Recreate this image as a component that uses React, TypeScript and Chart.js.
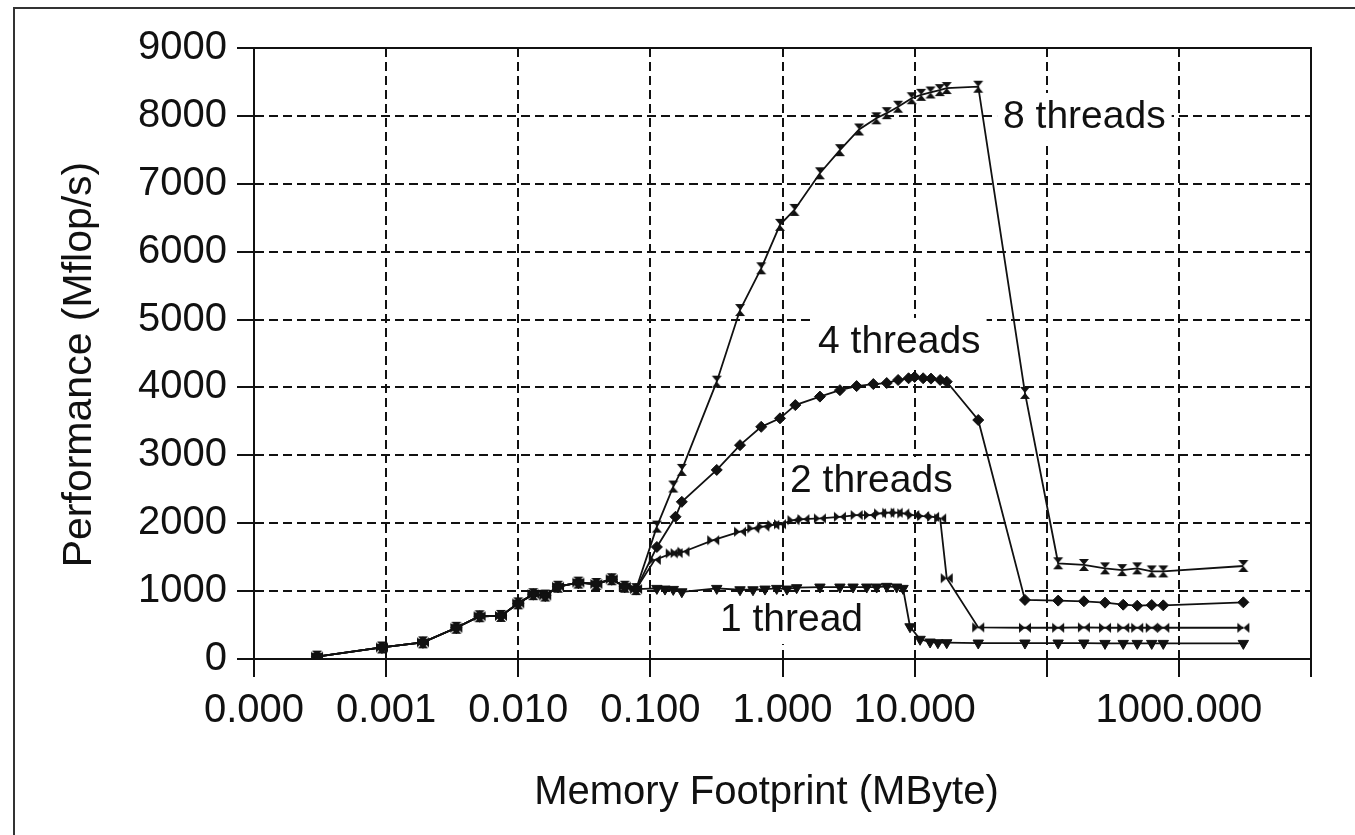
import React, { useEffect, useRef } from 'react';
import { Chart, registerables } from 'chart.js';

Chart.register(...registerables);

// ---- Data (memory footprint in MByte, performance in Mflop/s) ----
// All thread counts coincide for the smallest sizes
const sharedSize = [0.0003, 0.00093, 0.0019, 0.0034, 0.0051, 0.0074, 0.010, 0.013, 0.016, 0.020, 0.0285, 0.039, 0.051, 0.064, 0.078];
const sharedPerf = [35, 170, 245, 460, 630, 635, 820, 955, 935, 1065, 1125, 1105, 1175, 1065, 1030];

const size1 = [0.112, 0.129, 0.149, 0.173, 0.318, 0.477, 0.598, 0.737, 0.904, 1.08, 1.28, 1.92, 2.72, 3.42, 4.34, 5.16, 6.15, 7.31, 8.17, 9.23, 11.0, 13.1, 15.0, 17.5, 30.3, 68.4, 122, 191, 276, 379, 484, 623, 762, 3076];
const perf1 = [1040, 1030, 1025, 990, 1040, 1020, 1020, 1030, 1040, 1030, 1050, 1060, 1060, 1060, 1060, 1060, 1070, 1060, 1040, 475, 290, 250, 240, 240, 235, 235, 235, 235, 230, 230, 230, 230, 230, 230];

const size2 = [0.108, 0.145, 0.158, 0.178, 0.299, 0.477, 0.601, 0.716, 0.852, 0.957, 1.21, 1.44, 1.92, 2.72, 3.64, 4.59, 5.47, 6.32, 7.31, 8.21, 9.77, 11.6, 13.8, 15.6, 17.5, 30.3, 68.4, 122, 191, 276, 379, 484, 623, 762, 3076];
const perf2 = [1460, 1555, 1560, 1580, 1750, 1875, 1925, 1950, 1975, 1985, 2045, 2060, 2070, 2095, 2120, 2120, 2145, 2155, 2155, 2145, 2120, 2105, 2095, 2070, 1190, 465, 460, 460, 465, 460, 460, 460, 460, 460, 460];

const size4 = [0.112, 0.155, 0.173, 0.318, 0.477, 0.69, 0.957, 1.25, 1.92, 2.72, 3.64, 4.87, 6.15, 7.5, 9.0, 10.0, 11.6, 13.3, 15.6, 17.5, 30.3, 68.4, 122, 191, 276, 379, 484, 623, 762, 3076];
const perf4 = [1650, 2095, 2315, 2785, 3150, 3420, 3545, 3740, 3865, 3960, 4020, 4050, 4065, 4110, 4135, 4155, 4135, 4130, 4110, 4085, 3520, 870, 860, 850, 830, 800, 785, 795, 790, 835];

const size8 = [0.112, 0.149, 0.173, 0.318, 0.477, 0.69, 0.957, 1.23, 1.92, 2.72, 3.8, 5.13, 6.15, 7.5, 9.5, 11.2, 13.2, 15.5, 17.5, 30.3, 68.4, 122, 191, 276, 372, 484, 623, 762, 3076];
const perf8 = [1950, 2540, 2785, 4085, 5140, 5755, 6395, 6615, 7155, 7495, 7800, 7965, 8040, 8135, 8260, 8310, 8345, 8380, 8410, 8430, 3920, 1410, 1385, 1335, 1310, 1335, 1290, 1290, 1370];

const seriesNames = ['1 thread', '2 threads', '4 threads', '8 threads'];
// in-plot labels: left edge (MByte) and vertical centre (Mflop/s)
const labelSize = [0.336, 1.14, 1.857, 46.7];
const labelPerf = [574, 2622, 4670, 7984];

const xTickValues = [0.0001, 0.001, 0.01, 0.1, 1, 10, 100, 1000, 10000];
const xTickLabels = ['0.000', '0.001', '0.010', '0.100', '1.000', '10.000', '', '1000.000', ''];
const yMin = 0;
const yMax = 9000;
const yStep = 1000;

const xTitle = 'Memory Footprint (MByte)';
const yTitle = 'Performance (Mflop/s)';

const FONT = '"Liberation Sans", Arial, Helvetica, sans-serif';
const INK = '#111';

function makeMarker(kind: string): HTMLCanvasElement {
  const c = document.createElement('canvas');
  if (kind === 'bowtieH') {
    c.width = 14; c.height = 12;
  } else {
    c.width = 12; c.height = 14;
  }
  const ctx = c.getContext('2d')!;
  ctx.fillStyle = INK;
  ctx.beginPath();
  if (kind === 'bowtieH') {
    ctx.moveTo(1, 1); ctx.lineTo(7, 6); ctx.lineTo(1, 11); ctx.closePath();
    ctx.moveTo(13, 1); ctx.lineTo(7, 6); ctx.lineTo(13, 11); ctx.closePath();
  } else {
    ctx.moveTo(1, 1); ctx.lineTo(11, 1); ctx.lineTo(6, 7); ctx.closePath();
    ctx.moveTo(1, 13); ctx.lineTo(11, 13); ctx.lineTo(6, 7); ctx.closePath();
  }
  ctx.fill();
  return c;
}

function pts(sizes: number[], perfs: number[]) {
  const all = sharedSize.concat(sizes);
  const vals = sharedPerf.concat(perfs);
  return all.map((s, i) => ({ x: s, y: vals[i] }));
}

const overlayPlugin = {
  id: 'overlay',
  beforeDatasetsDraw(chart: any) {
    const { ctx, chartArea: a, scales } = chart;
    ctx.save();
    ctx.setLineDash([]);
    ctx.strokeStyle = INK;
    ctx.lineWidth = 2;
    ctx.strokeRect(a.left, a.top, a.right - a.left, a.bottom - a.top);
    ctx.font = `39px ${FONT}`;
    ctx.textBaseline = 'middle';
    ctx.textAlign = 'left';
    seriesNames.forEach((name, i) => {
      const x = scales.x.getPixelForValue(labelSize[i]);
      const y = scales.y.getPixelForValue(labelPerf[i]);
      const w = ctx.measureText(name).width;
      ctx.fillStyle = '#fff';
      ctx.fillRect(x - 6, y - 24, w + 12, 48);
      ctx.fillStyle = INK;
      ctx.fillText(name, x, y);
    });
    ctx.restore();
  },
  afterDraw(chart: any) {
    const { ctx, chartArea: a } = chart;
    ctx.save();
    ctx.fillStyle = INK;
    ctx.textAlign = 'center';
    ctx.textBaseline = 'middle';
    // axis titles (placed slightly off-centre as in the original figure)
    ctx.font = `40px ${FONT}`;
    ctx.fillText(xTitle, (a.left + a.right) / 2 - 16, a.bottom + 134);
    ctx.translate(a.left - 174, (a.top + a.bottom) / 2 + 11);
    ctx.rotate(-Math.PI / 2);
    ctx.font = `41px ${FONT}`;
    ctx.fillText(yTitle, 0, 0);
    ctx.restore();
  },
};

export default function App() {
  const ref = useRef<HTMLCanvasElement | null>(null);
  useEffect(() => {
    if (!ref.current) return;
    const bowtie = makeMarker('bowtieH');
    const hourglass = makeMarker('hourglass');
    const common = {
      borderColor: INK,
      backgroundColor: INK,
      borderWidth: 1.8,
      pointBorderColor: INK,
      pointBackgroundColor: INK,
      pointBorderWidth: 1,
      tension: 0,
      showLine: true,
    };
    const chart = new Chart(ref.current, {
      type: 'scatter',
      data: {
        datasets: [
          { ...common, label: seriesNames[0], data: pts(size1, perf1), pointStyle: 'triangle', rotation: 180, pointRadius: 6 },
          { ...common, label: seriesNames[1], data: pts(size2, perf2), pointStyle: bowtie, pointRadius: 6 },
          { ...common, label: seriesNames[2], data: pts(size4, perf4), pointStyle: 'rectRot', pointRadius: 5.5 },
          { ...common, label: seriesNames[3], data: pts(size8, perf8), pointStyle: hourglass, pointRadius: 6 },
        ] as any,
      },
      options: {
        responsive: false,
        animation: false,
        devicePixelRatio: 1,
        layout: { padding: { left: 0, top: 48, right: 44, bottom: 0 } },
        plugins: { legend: { display: false }, tooltip: { enabled: false }, title: { display: false } },
        scales: {
          x: {
            type: 'logarithmic',
            min: xTickValues[0],
            max: xTickValues[xTickValues.length - 1],
            afterBuildTicks: (axis: any) => {
              axis.ticks = xTickValues.map((v) => ({ value: v }));
            },
            afterFit: (s: any) => { s.height = 176; },
            ticks: {
              autoSkip: false,
              maxRotation: 0,
              minRotation: 0,
              padding: 10,
              color: INK,
              font: { family: FONT, size: 40 },
              callback: (v: any) => {
                const i = xTickValues.findIndex((t) => Math.abs(Math.log10(t) - Math.log10(Number(v))) < 1e-6);
                return i >= 0 ? xTickLabels[i] : '';
              },
            },
            grid: { color: INK, lineWidth: 2, tickLength: 18, tickColor: INK, tickWidth: 2, drawTicks: true },
            border: { display: true, color: INK, width: 2, dash: [9, 5] },
            title: { display: false, text: xTitle },
          },
          y: {
            type: 'linear',
            min: yMin,
            max: yMax,
            afterFit: (s: any) => { s.width = 254; },
            ticks: {
              stepSize: yStep,
              padding: 10,
              color: INK,
              font: { family: FONT, size: 40 },
              callback: (v: any) => String(v),
            },
            grid: { color: INK, lineWidth: 2, tickLength: 17, tickColor: INK, tickWidth: 2, drawTicks: true },
            border: { display: true, color: INK, width: 2, dash: [9, 5] },
            title: { display: false, text: yTitle },
          },
        },
      } as any,
      plugins: [overlayPlugin],
    });
    return () => chart.destroy();
  }, []);

  return (
    <div style={{ position: 'fixed', left: 0, top: 0, width: 1355, height: 835, background: '#fff', overflow: 'hidden' }}>
      <div style={{ position: 'absolute', left: 13, top: 7, width: 1400, height: 900, borderLeft: '2px solid #333', borderTop: '2px solid #333' }} />
      <canvas ref={ref} width={1355} height={835} style={{ position: 'absolute', left: 0, top: 0 }} />
    </div>
  );
}
